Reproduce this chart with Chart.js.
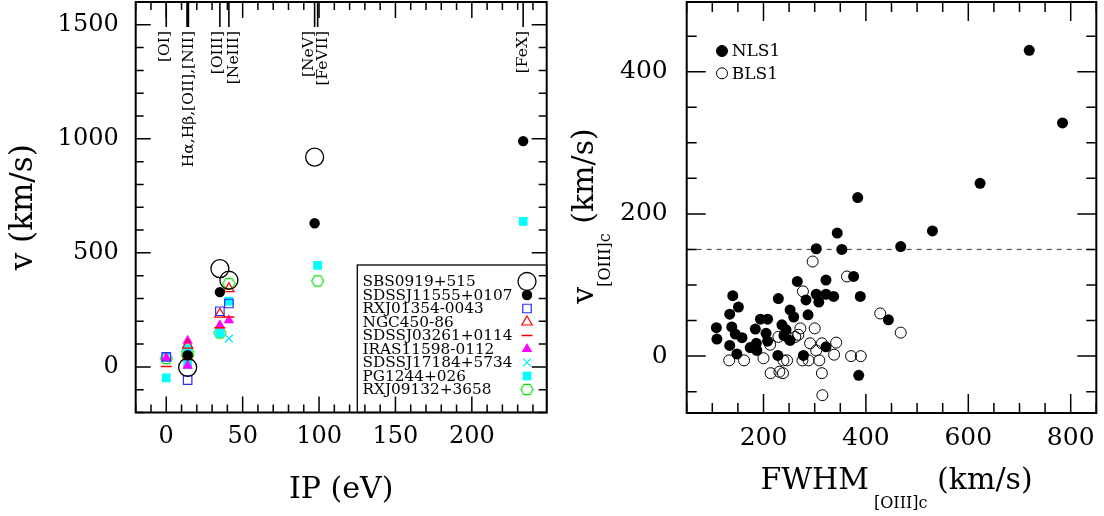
<!DOCTYPE html>
<html>
<head>
<meta charset="utf-8">
<script src="https://cdn.jsdelivr.net/npm/chart.js@4.4.1/dist/chart.umd.min.js"></script>
<style>
  html, body { margin: 0; padding: 0; background: #fff; }
  #wrap { position: relative; width: 1104px; height: 516px; }
  canvas { position: absolute; top: 0; }
  #left { left: 0; }
  #right { left: 552px; }
</style>
</head>
<body>
<div id="wrap">
  <canvas id="left" width="552" height="516"></canvas>
  <canvas id="right" width="552" height="516"></canvas>
</div>
<script>
// ionisation potentials (eV) of the lines marked along the top
const ipLines = [0, 13.6, 14.5, 35.1, 41.0, 97.1, 99.1, 233.6];
const lineLabels = ["[OI]", "Hα,Hβ,[OII],[NII]", "[OIII]", "[NeIII]", "[NeV]", "[FeVII]", "[FeX]"];
const labelIP = [0, 14, 35.1, 41.0, 97.1, 99.1, 233.6];

// [IP (eV), v (km/s)] per object
const objectNames = ["SBS0919+515", "SDSSJ11555+0107", "RXJ01354-0043", "NGC450-86",
  "SDSSJ03261+0114", "IRAS11598-0112", "SDSSJ17184+5734", "PG1244+026", "RXJ09132+3658"];
const sbs0919 = [[14, -2], [35.1, 431], [41.0, 380], [97.1, 920]];
const sdss11555 = [[14, 51], [35.1, 328], [97.1, 630], [233.6, 990]];
const rxj01354 = [[0, 44], [14, -58], [35.1, 244], [41.0, 278]];
const ngc450 = [[14, 95], [35.1, 231], [41.0, 343]];
const sdss03261 = [[0, 2], [14, 32], [14, 45], [35.1, 172], [41.0, 219]];
const iras11598 = [[0, 40], [14, 115], [14, 5], [35.1, 183], [41.0, 204]];
const sdss17184 = [[0, 45], [14, 8], [14, 20], [41.0, 124]];
const pg1244 = [[0, -48], [14, 80], [14, 12], [35.1, 149], [41.0, 288], [99.1, 445], [233.6, 638]];
const rxj09132 = [[0, 37], [14, 66], [14, 50], [35.1, 149], [41.0, 365], [99.1, 377]];

// [FWHM [OIII]c, v [OIII]c] in km/s
const nls1 = [
  [719, 430], [784, 328], [623, 243], [384, 223], [530, 176], [344, 173], [303, 151], [353, 150],
  [468, 154], [376, 112], [389, 84], [322, 107], [266, 105], [229, 81], [140, 85], [151, 69],
  [283, 79], [303, 87], [322, 87], [337, 84], [308, 76], [252, 65], [259, 55], [287, 58],
  [194, 52], [208, 52], [134, 59], [108, 40], [109, 24], [138, 41], [145, 31], [158, 26],
  [134, 15], [148, 3], [174, 12], [184, 38], [186, 18], [187, 8], [205, 32], [208, 21],
  [236, 44], [244, 37], [240, 29], [252, 22], [228, 1], [278, 1], [322, 13], [386, -27], [444, 51]
];
const bls1 = [
  [296, 133], [363, 112], [277, 91], [428, 60], [468, 33], [133, -6], [162, -6], [200, -3],
  [213, 16], [229, 27], [214, -24], [231, -22], [238, -24], [246, -6], [272, 39], [262, 27],
  [276, -6], [288, -6], [291, 18], [300, 39], [303, 8], [309, -6], [314, 18], [314, -24],
  [315, -55], [338, 2], [342, 19], [371, 0], [390, 0], [247, 27], [239, -6], [268, 30]
];
const vThreshold = 150;

const FONT = '"DejaVu Serif", "Liberation Serif", serif';

const pts = arr => arr.map(([x, y]) => ({ x, y }));

function hexagon(r, color) {
  const c = document.createElement("canvas");
  c.width = c.height = Math.ceil(2 * r + 3);
  const g = c.getContext("2d");
  const m = c.width / 2;
  g.strokeStyle = color;
  g.lineWidth = 1.2;
  g.beginPath();
  for (let i = 0; i < 6; i++) {
    const a = (Math.PI / 3) * i;
    g.lineTo(m + r * Math.cos(a), m + r * Math.sin(a));
  }
  g.closePath();
  g.stroke();
  return c;
}

// tick list with a flag for the long (labelled) ones
function fixedTicks(from, to, step, major) {
  return scale => {
    const t = [];
    for (let v = from; v <= to; v += step) t.push({ value: v, major: v % major === 0 });
    scale.ticks = t;
  };
}

function boxSize(w, h) {
  return scale => {
    if (w !== null) scale.width = w;
    if (h !== null) scale.height = h;
    scale.paddingLeft = scale.paddingRight = scale.paddingTop = scale.paddingBottom = 0;
  };
}

// frame with inward ticks on all four sides
function drawFrame(ctx, a, xs, ys, len) {
  ctx.save();
  ctx.strokeStyle = "#000";
  ctx.lineWidth = 1.5;
  ctx.beginPath();
  xs.ticks.forEach(t => {
    const px = xs.getPixelForValue(t.value);
    const l = t.major ? len.xMaj : len.xMin;
    ctx.moveTo(px, a.bottom); ctx.lineTo(px, a.bottom - l);
    ctx.moveTo(px, a.top); ctx.lineTo(px, a.top + l);
  });
  ys.ticks.forEach(t => {
    const py = ys.getPixelForValue(t.value);
    const l = t.major ? len.yMaj : len.yMin;
    ctx.moveTo(a.left, py); ctx.lineTo(a.left + l, py);
    ctx.moveTo(a.right, py); ctx.lineTo(a.right - l, py);
  });
  ctx.stroke();
  ctx.lineWidth = 2;
  ctx.strokeRect(a.left, a.top, a.right - a.left, a.bottom - a.top);
  ctx.restore();
}

// text made of runs [text, size, drop]; centred on (cx, baseline cy)
function drawRuns(ctx, runs, cx, cy, angle) {
  ctx.save();
  ctx.translate(cx, cy);
  ctx.rotate(angle);
  const w = runs.map(([t, s]) => { ctx.font = s + "px " + FONT; return ctx.measureText(t).width; });
  let xx = -w.reduce((p, q) => p + q, 0) / 2;
  ctx.fillStyle = "#000";
  ctx.textAlign = "left";
  ctx.textBaseline = "alphabetic";
  runs.forEach(([t, s, d], i) => {
    ctx.font = s + "px " + FONT;
    ctx.fillText(t, xx, d);
    xx += w[i];
  });
  ctx.restore();
}

function scaleOpts(min, max, ticks, size, fontSize, pad) {
  return {
    type: "linear",
    min, max,
    grid: { display: false, drawTicks: false },
    border: { display: false },
    afterBuildTicks: ticks,
    afterFit: size,
    ticks: {
      autoSkip: false,
      maxRotation: 0,
      padding: pad,
      color: "#000",
      font: { family: FONT, size: fontSize },
      callback: (v, i, t) => (t[i].major ? String(v) : "")
    }
  };
}

const hexGreen = hexagon(6, "#00e000");
const symbolStyles = [
  { pointStyle: "circle", pointRadius: 9, backgroundColor: "rgba(0,0,0,0)", borderColor: "#000", borderWidth: 1.3 },
  { pointStyle: "circle", pointRadius: 5.2, backgroundColor: "#000", borderColor: "#000", borderWidth: 0 },
  { pointStyle: "rect", pointRadius: 6, backgroundColor: "rgba(0,0,0,0)", borderColor: "#2b2bff", borderWidth: 1.2 },
  { pointStyle: "triangle", pointRadius: 6, backgroundColor: "rgba(0,0,0,0)", borderColor: "#ff0000", borderWidth: 1.2 },
  { pointStyle: "line", pointRadius: 5.5, backgroundColor: "#ff0000", borderColor: "#ff0000", borderWidth: 1.5 },
  { pointStyle: "triangle", pointRadius: 6, backgroundColor: "#ff00ff", borderColor: "#ff00ff", borderWidth: 0 },
  { pointStyle: "crossRot", pointRadius: 5.5, backgroundColor: "#00e8ff", borderColor: "#00e8ff", borderWidth: 1.2 },
  { pointStyle: "rect", pointRadius: 6.2, backgroundColor: "#00ffff", borderColor: "#00ffff", borderWidth: 0 },
  { pointStyle: hexGreen, pointRadius: 6, backgroundColor: "rgba(0,0,0,0)", borderColor: "#00e000", borderWidth: 1 }
];
const objectData = [sbs0919, sdss11555, rxj01354, ngc450, sdss03261, iras11598, sdss17184, pg1244, rxj09132];

const leftDecor = {
  id: "leftDecor",
  afterDraw(chart) {
    const { ctx, chartArea: a, scales: { x, y } } = chart;
    drawFrame(ctx, a, x, y, { xMaj: 16, xMin: 8, yMaj: 15, yMin: 8 });

    // emission line markers
    const labelShift = [-1, 1, -2, 5, -6, 5, 0];
    ctx.save();
    ctx.strokeStyle = "#000";
    ctx.lineWidth = 1.6;
    ctx.beginPath();
    ipLines.forEach(ip => {
      const px = x.getPixelForValue(ip);
      ctx.moveTo(px, a.top);
      ctx.lineTo(px, a.top + 25);
    });
    ctx.stroke();
    ctx.font = "15.5px " + FONT;
    ctx.fillStyle = "#000";
    ctx.textAlign = "right";
    ctx.textBaseline = "middle";
    lineLabels.forEach((t, i) => {
      ctx.save();
      ctx.translate(x.getPixelForValue(labelIP[i]) + labelShift[i], a.top + 29);
      ctx.rotate(-Math.PI / 2);
      ctx.fillText(t, 0, 0);
      ctx.restore();
    });

    // object key, bottom right
    const bx = 357.3, by = 265;
    ctx.lineWidth = 1.3;
    ctx.strokeRect(bx, by, a.right - bx, a.bottom - by);
    ctx.font = "15.3px " + FONT;
    ctx.textAlign = "left";
    chart.data.datasets.forEach((ds, i) => {
      const ry = 281.5 + 13.5 * i;
      ctx.fillStyle = "#000";
      ctx.fillText(ds.label, 362.5, ry + 1);
      ctx.fillStyle = ds.backgroundColor;
      ctx.strokeStyle = ds.borderColor;
      ctx.lineWidth = ds.borderWidth;
      Chart.helpers.drawPoint(ctx, {
        pointStyle: ds.pointStyle, radius: ds.pointRadius, rotation: 0, borderWidth: ds.borderWidth
      }, 527, ry);
    });
    ctx.restore();

    drawRuns(ctx, [["IP (eV)", 30, 0]], (a.left + a.right) / 2, 498, 0);
    drawRuns(ctx, [["v (km/s)", 31, 0]], 32.3, (a.top + a.bottom) / 2, -Math.PI / 2);
  }
};

new Chart(document.getElementById("left"), {
  type: "scatter",
  data: {
    datasets: objectData.map((d, i) => Object.assign({ label: objectNames[i], data: pts(d) }, symbolStyles[i]))
  },
  options: {
    responsive: false,
    animation: false,
    events: [],
    layout: { autoPadding: false, padding: { left: 0, right: 552 - 546.7, top: 2, bottom: 0 } },
    plugins: { legend: { display: false }, tooltip: { enabled: false } },
    scales: {
      x: scaleOpts(-20, 249, fixedTicks(-20, 240, 10, 50), boxSize(null, 516 - 412.5), 24, 10),
      y: scaleOpts(-200, 1600, fixedTicks(-200, 1600, 100, 500), boxSize(135.7, null), 24, 17)
    }
  },
  plugins: [leftDecor]
});

const rightDecor = {
  id: "rightDecor",
  afterDraw(chart) {
    const { ctx, chartArea: a, scales: { x, y } } = chart;
    drawFrame(ctx, a, x, y, { xMaj: 19, xMin: 10, yMaj: 19, yMin: 10 });

    // NLS1 / BLS1 key
    ctx.save();
    ctx.font = "17px " + FONT;
    ctx.textAlign = "left";
    ctx.textBaseline = "middle";
    const keys = [["NLS1", "#000"], ["BLS1", "rgba(0,0,0,0)"]];
    keys.forEach(([t, fill], i) => {
      const ry = 51 + 22.3 * i;
      ctx.fillStyle = fill;
      ctx.strokeStyle = "#000";
      ctx.lineWidth = 1;
      Chart.helpers.drawPoint(ctx, { pointStyle: "circle", radius: 5.5, rotation: 0, borderWidth: 1 }, a.left + 35.3, ry);
      ctx.fillStyle = "#000";
      ctx.fillText(t, a.left + 45, ry + 1);
    });
    ctx.restore();

    drawRuns(ctx, [["FWHM", 30, 0], [" [OIII]c", 16, 19], [" (km/s)", 30, 0]], 344.5, 489, 0);
    drawRuns(ctx, [["v", 30, 0], ["[OIII]c", 16, 17], [" (km/s)", 30, 0]], 41.3, 216, -Math.PI / 2);
  }
};

new Chart(document.getElementById("right"), {
  type: "scatter",
  data: {
    datasets: [
      { label: "NLS1", data: pts(nls1), pointRadius: 5.5, backgroundColor: "#000", borderColor: "#000", borderWidth: 0 },
      { label: "BLS1", data: pts(bls1), pointRadius: 5.5, backgroundColor: "rgba(0,0,0,0)", borderColor: "#000", borderWidth: 1 },
      {
        type: "line", label: "threshold",
        data: [{ x: 50, y: vThreshold }, { x: 850, y: vThreshold }],
        borderColor: "#555", borderWidth: 1.2, borderDash: [5, 5], pointRadius: 0, showLine: true
      }
    ]
  },
  options: {
    responsive: false,
    animation: false,
    events: [],
    layout: { autoPadding: false, padding: { left: 0, right: 552 - 544.3, top: 2, bottom: 0 } },
    plugins: { legend: { display: false }, tooltip: { enabled: false } },
    scales: {
      x: scaleOpts(50, 850, fixedTicks(50, 850, 50, 200), boxSize(null, 516 - 413), 25, 10),
      y: scaleOpts(-80, 498, fixedTicks(-50, 450, 50, 200), boxSize(134.7, null), 25, 19)
    }
  },
  plugins: [rightDecor]
});
</script>
</body>
</html>
